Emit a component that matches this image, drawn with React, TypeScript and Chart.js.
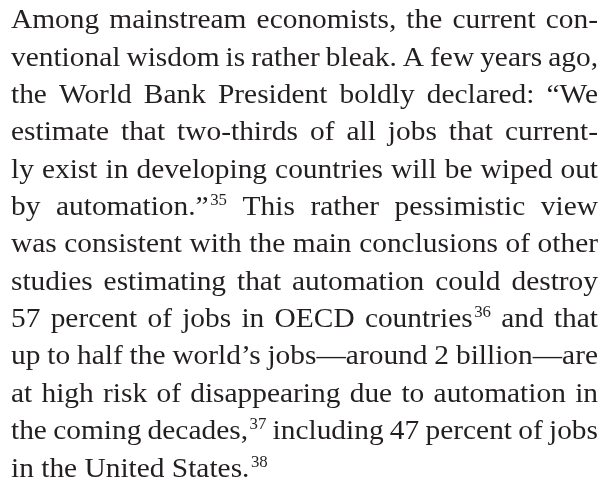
import React, { useEffect, useRef } from "react";
import { Chart, registerables } from "chart.js";

Chart.register(...registerables);

// Paragraph lines as set in the reference (line breaks preserved); ^NN marks a superscript note number
const textLines: string[] = [
  "Among mainstream economists, the current con-",
  "ventional wisdom is rather bleak. A few years ago,",
  "the World Bank President boldly declared: “We",
  "estimate that two-thirds of all jobs that current-",
  "ly exist in developing countries will be wiped out",
  "by automation.”^35 This rather pessimistic view",
  "was consistent with the main conclusions of other",
  "studies estimating that automation could destroy",
  "57 percent of jobs in OECD countries^36 and that",
  "up to half the world’s jobs—around 2 billion—are",
  "at high risk of disappearing due to automation in",
  "the coming decades,^37 including 47 percent of jobs",
  "in the United States.^38",
];

const W = 608;
const H = 481;
const LEFT = 11;
const RIGHT = 598;
const TOP = 28.3;
const LINE_H = 37.35;
const FONT_SIZE = 28;
const SUP_SIZE = 16;
const SUP_RISE = 10;
const SX = 1.05;
const FONT_FAMILY = '"Liberation Serif", "DejaVu Serif", serif';
const TEXT_COLOR = "#231f20";

const paragraphPlugin = {
  id: "paragraph",
  afterDraw(chart: any) {
    const ctx: CanvasRenderingContext2D = chart.ctx;
    ctx.save();
    ctx.fillStyle = TEXT_COLOR;
    ctx.textBaseline = "alphabetic";
    ctx.textAlign = "left";
    const mainFont = `${FONT_SIZE}px ${FONT_FAMILY}`;
    const supFont = `${SUP_SIZE}px ${FONT_FAMILY}`;
    const measure = (t: string, f: string) => {
      ctx.font = f;
      return ctx.measureText(t).width * SX;
    };
    const draw = (t: string, f: string, x: number, y: number) => {
      ctx.save();
      ctx.font = f;
      ctx.translate(x, y);
      ctx.scale(SX, 1);
      ctx.fillText(t, 0, 0);
      ctx.restore();
    };
    textLines.forEach((line, i) => {
      const words = line.split(" ").map((w) => {
        const [base, sup] = w.split("^");
        return { base, sup };
      });
      const widths = words.map((w) => {
        let wd = measure(w.base, mainFont);
        if (w.sup) wd += measure(w.sup, supFont) + 1.5;
        return wd;
      });
      const total = widths.reduce((a, b) => a + b, 0);
      const spaceW = measure(" ", mainFont);
      const isLast = i === textLines.length - 1;
      let gap = spaceW;
      if (!isLast && words.length > 1) {
        gap = (RIGHT - LEFT - total) / (words.length - 1);
      }
      let x = LEFT;
      const y = TOP + i * LINE_H;
      words.forEach((w) => {
        draw(w.base, mainFont, x, y);
        x += measure(w.base, mainFont);
        if (w.sup) {
          x += 1.5;
          draw(w.sup, supFont, x, y - SUP_RISE);
          x += measure(w.sup, supFont);
        }
        x += gap;
      });
    });
    ctx.restore();
  },
};

export default function App() {
  const ref = useRef<HTMLCanvasElement | null>(null);
  useEffect(() => {
    if (!ref.current) return;
    const chart = new Chart(ref.current, {
      type: "bar",
      data: { labels: [], datasets: [] },
      options: {
        animation: false,
        responsive: false,
        events: [],
        layout: { padding: 0 },
        plugins: {
          legend: { display: false },
          title: { display: false },
          tooltip: { enabled: false },
        },
        scales: {
          x: { display: false },
          y: { display: false },
        },
      },
      plugins: [paragraphPlugin],
    });
    return () => chart.destroy();
  }, []);
  return (
    <div style={{ position: "absolute", left: 0, top: 0, width: W, height: H, background: "#ffffff" }}>
      <canvas ref={ref} width={W} height={H} style={{ display: "block", width: W, height: H }} />
    </div>
  );
}
